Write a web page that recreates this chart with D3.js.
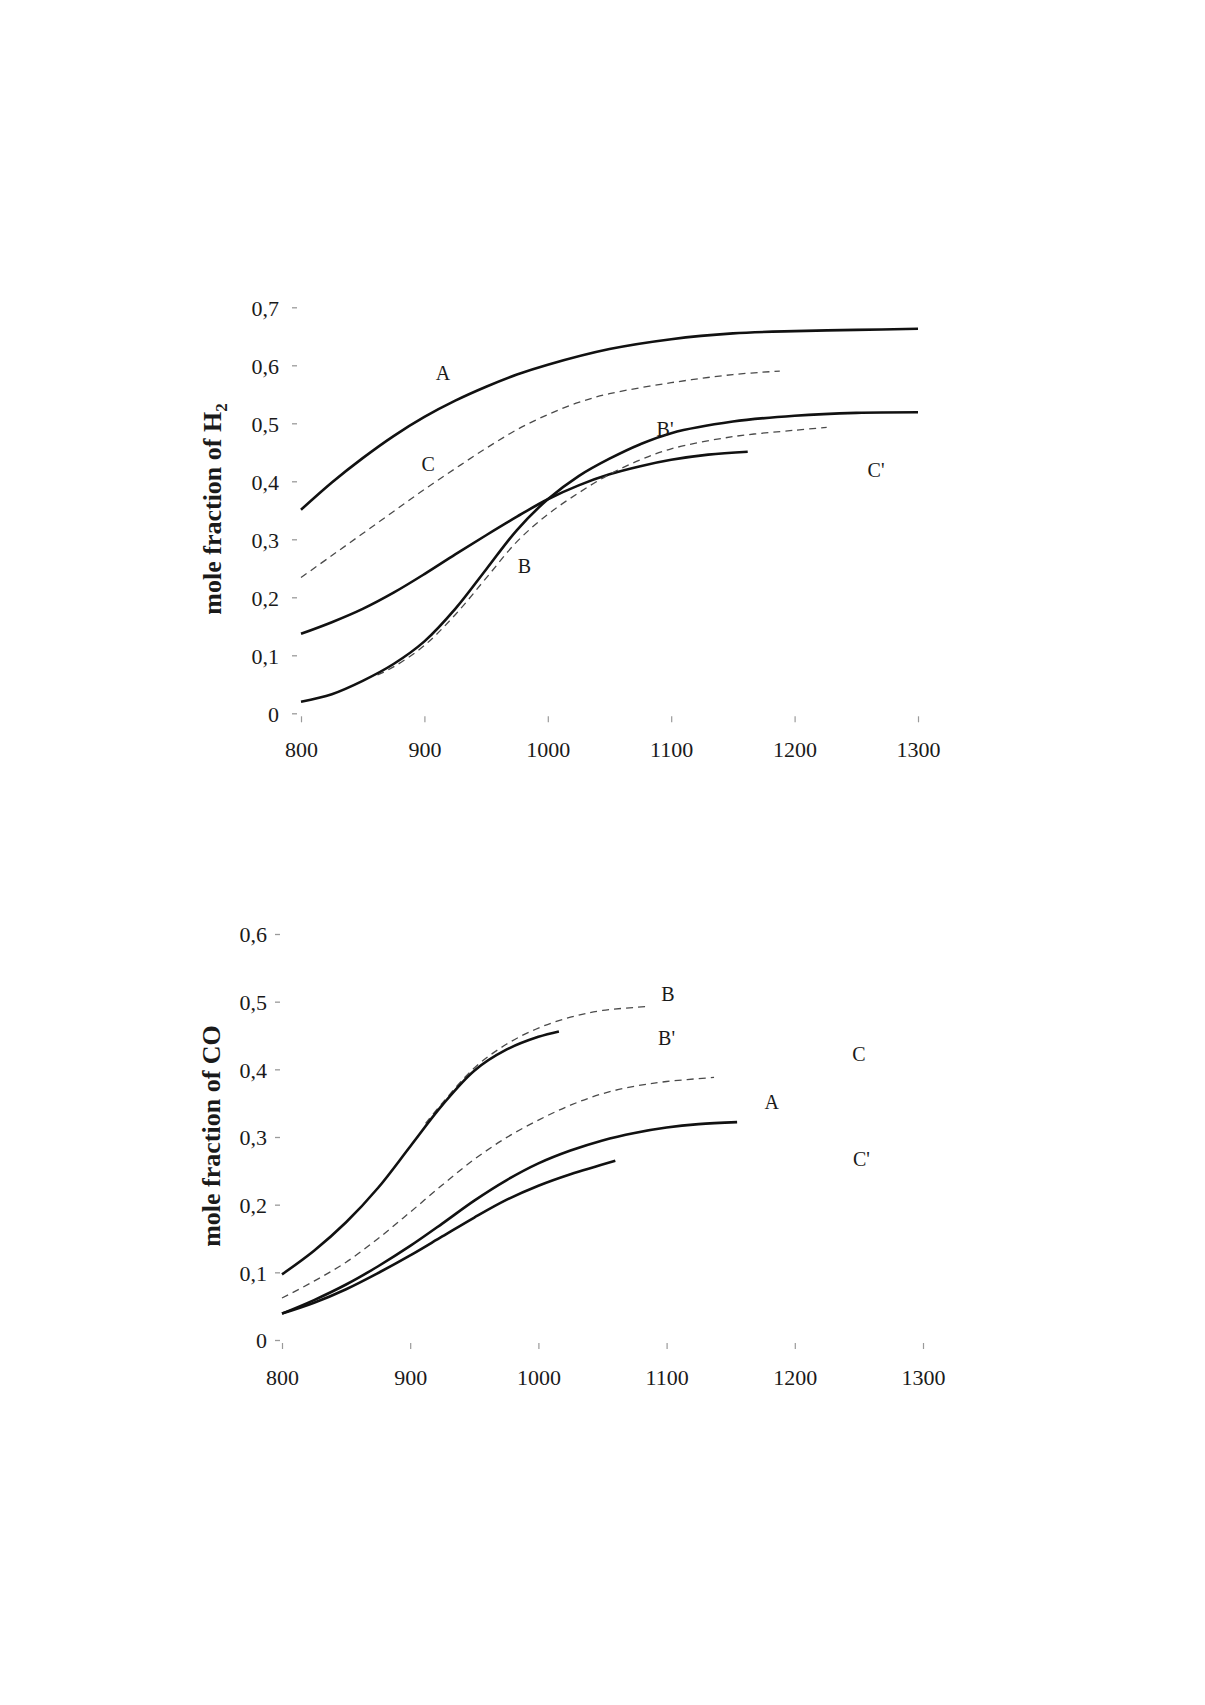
<!DOCTYPE html>
<html>
<head>
<meta charset="utf-8">
<script src="https://cdn.jsdelivr.net/npm/d3@7"></script>
<style>
  html, body { margin: 0; padding: 0; background: #fff; }
  svg { display: block; }
  text { font-family: "Liberation Serif", "Times New Roman", serif; fill: #1a1a1a; }
</style>
</head>
<body>
<svg id="chart" width="1205" height="1705"></svg>
<script>
// ---------- Axis ticks ----------
const xTicks = [800, 900, 1000, 1100, 1200, 1300];
const h2Ticks = [0, 0.1, 0.2, 0.3, 0.4, 0.5, 0.6, 0.7];
const coTicks = [0, 0.1, 0.2, 0.3, 0.4, 0.5, 0.6];

// ---------- Data: top chart (mole fraction of H2) ----------
const h2A_T = [800, 825, 850, 875, 900, 925, 950, 975, 1000, 1050, 1100, 1150, 1200, 1250, 1300];
const h2A_v = [0.351, 0.398, 0.440, 0.478, 0.511, 0.539, 0.563, 0.584, 0.601, 0.628, 0.645, 0.655, 0.659, 0.661, 0.663];

const h2C_T = [800, 825, 850, 875, 900, 925, 950, 975, 1000, 1025, 1050, 1100, 1150, 1188];
const h2C_v = [0.234, 0.272, 0.310, 0.348, 0.386, 0.422, 0.457, 0.489, 0.515, 0.536, 0.551, 0.570, 0.584, 0.590];

const h2Cp_T = [800, 825, 850, 875, 900, 925, 950, 975, 1000, 1025, 1050, 1075, 1100, 1130, 1162];
const h2Cp_v = [0.137, 0.157, 0.180, 0.208, 0.240, 0.274, 0.307, 0.339, 0.369, 0.393, 0.412, 0.426, 0.437, 0.446, 0.451];

const h2Bp_T = [800, 825, 850, 875, 900, 925, 950, 975, 1000, 1025, 1050, 1075, 1100, 1150, 1200, 1250, 1300];
const h2Bp_v = [0.020, 0.033, 0.056, 0.085, 0.124, 0.180, 0.248, 0.316, 0.369, 0.409, 0.439, 0.464, 0.483, 0.503, 0.513, 0.518, 0.519];

const h2B_T = [862, 875, 900, 925, 950, 975, 1000, 1025, 1050, 1075, 1100, 1150, 1200, 1226];
const h2B_v = [0.066, 0.080, 0.117, 0.170, 0.233, 0.296, 0.343, 0.380, 0.412, 0.437, 0.456, 0.477, 0.488, 0.493];

// label anchors (data units) for the top chart
const h2Labels = ["A", "C", "B", "B'", "C'"];
const h2LabelT = [915, 903, 981, 1095, 1266];
const h2LabelV = [0.586, 0.430, 0.254, 0.490, 0.419];

// ---------- Data: bottom chart (mole fraction of CO) ----------
const coBp_T = [800, 825, 850, 875, 900, 925, 950, 975, 1000, 1016];
const coBp_v = [0.097, 0.132, 0.174, 0.225, 0.286, 0.347, 0.398, 0.429, 0.448, 0.456];

const coB_T = [912, 925, 950, 975, 1000, 1025, 1050, 1087];
const coB_v = [0.320, 0.350, 0.402, 0.437, 0.461, 0.477, 0.487, 0.493];

const coC_T = [800, 825, 850, 875, 900, 925, 950, 975, 1000, 1025, 1050, 1075, 1100, 1137];
const coC_v = [0.062, 0.087, 0.115, 0.150, 0.189, 0.229, 0.267, 0.299, 0.325, 0.347, 0.364, 0.375, 0.382, 0.388];

const coA_T = [800, 825, 850, 875, 900, 925, 950, 975, 1000, 1025, 1050, 1075, 1100, 1125, 1155];
const coA_v = [0.039, 0.059, 0.082, 0.109, 0.139, 0.172, 0.206, 0.236, 0.261, 0.280, 0.295, 0.306, 0.314, 0.319, 0.322];

const coCp_T = [800, 825, 850, 875, 900, 925, 950, 975, 1000, 1025, 1060];
const coCp_v = [0.039, 0.055, 0.075, 0.099, 0.125, 0.153, 0.181, 0.207, 0.228, 0.245, 0.265];

const coLabels = ["B", "B'", "C", "A", "C'"];
const coLabelT = [1101, 1100, 1250, 1182, 1252];
const coLabelV = [0.512, 0.446, 0.422, 0.352, 0.268];

// ---------- Drawing ----------
const svg = d3.select("#chart");
svg.append("rect").attr("width", 1205).attr("height", 1705).attr("fill", "#fff");

function zip(T, v) { return T.map((t, i) => ({ t: t, v: v[i] })); }

function drawChart(cfg) {
  const x = d3.scaleLinear().domain([800, 1300]).range([cfg.x0, cfg.x1]);
  const y = d3.scaleLinear().domain([0, cfg.yMax]).range([cfg.y0, cfg.y1]);
  const g = svg.append("g");

  // y ticks (short detached dashes) and labels
  const yAxis = d3.axisLeft(y).tickValues(cfg.yTicks).tickSize(0)
    .tickFormat(d => d === 0 ? "0" : d3.format(".1f")(d).replace(".", ","));
  const ya = g.append("g").attr("transform", `translate(${cfg.x0},0)`).call(yAxis);
  ya.select(".domain").remove();
  ya.selectAll("text")
    .attr("x", -cfg.yLabelGap)
    .attr("dy", "0.35em")
    .style("font-size", "22px")
    .style("font-family", "'Liberation Serif', serif")
    .attr("fill", "#1a1a1a");
  ya.selectAll(".tick").append("line")
    .attr("x1", -cfg.tickOff - 5).attr("x2", -cfg.tickOff)
    .attr("stroke", "#9a9a9a").attr("stroke-width", 1.3);

  // x ticks and labels
  const xAxis = d3.axisBottom(x).tickValues(xTicks).tickSize(0).tickFormat(d3.format("d"));
  const xa = g.append("g").attr("transform", `translate(0,${cfg.y0})`).call(xAxis);
  xa.select(".domain").remove();
  xa.selectAll("text")
    .attr("y", cfg.xLabelBase)
    .attr("dy", 0)
    .style("font-size", "22px")
    .style("font-family", "'Liberation Serif', serif")
    .attr("fill", "#1a1a1a");
  xa.selectAll(".tick").append("line")
    .attr("y1", 3).attr("y2", 9)
    .attr("stroke", "#9a9a9a").attr("stroke-width", 1.2);

  // y title
  const title = g.append("text")
    .attr("transform", `translate(${cfg.titleX},${cfg.titleY}) rotate(-90)`)
    .attr("text-anchor", "middle")
    .style("font-size", "26px")
    .style("font-weight", "bold")
    .style("font-family", "'Liberation Serif', serif");
  title.append("tspan").text(cfg.title);
  if (cfg.titleSub) {
    title.append("tspan").text(cfg.titleSub)
      .attr("dy", 6).style("font-size", "17px");
  }

  const line = d3.line().x(d => x(d.t)).y(d => y(d.v)).curve(d3.curveCatmullRom.alpha(0.5));

  cfg.series.forEach(s => {
    g.append("path")
      .datum(zip(s.T, s.v))
      .attr("d", line)
      .attr("fill", "none")
      .attr("stroke", s.dashed ? "#4a4a4a" : "#111")
      .attr("stroke-width", s.dashed ? 1.3 : 2.6)
      .attr("stroke-dasharray", s.dashed ? "7,5" : null)
      .attr("stroke-linecap", "butt")
      .attr("stroke-linejoin", "round");
  });

  g.selectAll(".lbl").data(cfg.labels.map((l, i) => ({ l: l, t: cfg.labelT[i], v: cfg.labelV[i] })))
    .enter().append("text")
    .attr("x", d => x(d.t)).attr("y", d => y(d.v))
    .attr("text-anchor", "middle")
    .attr("dy", "0.35em")
    .style("font-size", "20px")
    .text(d => d.l);
}

drawChart({
  x0: 301, x1: 918, y0: 713.3, y1: 307.3, yMax: 0.7,
  yTicks: h2Ticks, yLabelGap: 22, tickOff: 4, xLabelBase: 44,
  titleX: 221, titleY: 509, title: "mole fraction of H", titleSub: "2",
  series: [
    { T: h2A_T, v: h2A_v, dashed: false },
    { T: h2C_T, v: h2C_v, dashed: true },
    { T: h2Cp_T, v: h2Cp_v, dashed: false },
    { T: h2B_T, v: h2B_v, dashed: true },
    { T: h2Bp_T, v: h2Bp_v, dashed: false }
  ],
  labels: h2Labels, labelT: h2LabelT, labelV: h2LabelV
});

drawChart({
  x0: 282, x1: 923, y0: 1340, y1: 934, yMax: 0.6,
  yTicks: coTicks, yLabelGap: 15, tickOff: 2, xLabelBase: 45,
  titleX: 220, titleY: 1136, title: "mole fraction of CO", titleSub: null,
  series: [
    { T: coB_T, v: coB_v, dashed: true },
    { T: coBp_T, v: coBp_v, dashed: false },
    { T: coC_T, v: coC_v, dashed: true },
    { T: coA_T, v: coA_v, dashed: false },
    { T: coCp_T, v: coCp_v, dashed: false }
  ],
  labels: coLabels, labelT: coLabelT, labelV: coLabelV
});
</script>
</body>
</html>
